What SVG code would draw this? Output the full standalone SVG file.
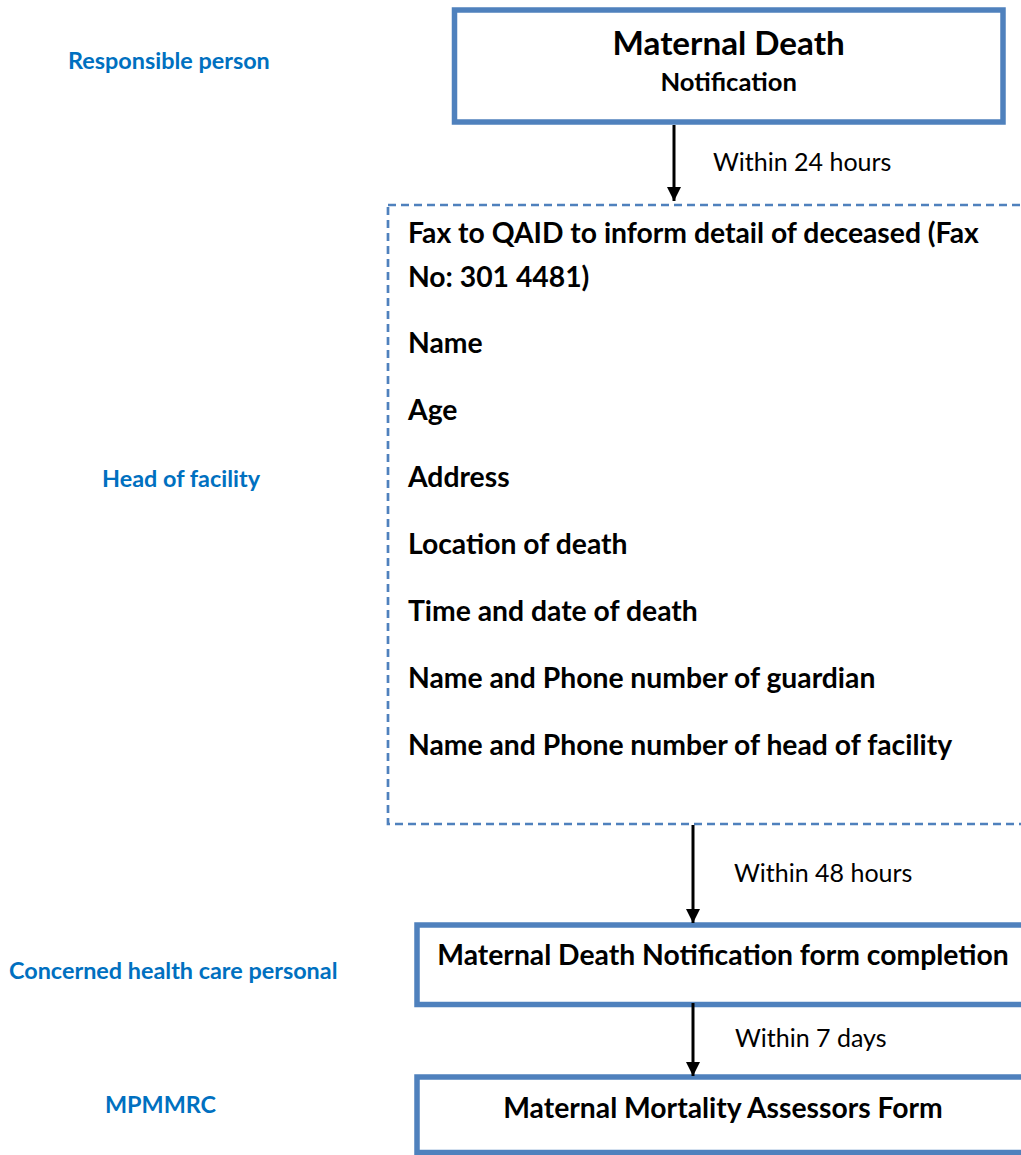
<svg xmlns="http://www.w3.org/2000/svg" width="1021" height="1155" viewBox="0 0 1021 1155">
  <style>
    .box { fill: #ffffff; stroke: #4f81bd; stroke-width: 5.5; }
    .dash { fill: #ffffff; stroke: #4f81bd; stroke-width: 2.7; stroke-dasharray: 8 5; }
    .t { font-family: Lato, "Liberation Sans", sans-serif; font-weight: bold; fill: #000000; }
    .it { font-size: 28.3px; }
    .lbl { font-family: Lato, "Liberation Sans", sans-serif; font-weight: bold; fill: #0070c0; font-size: 23.4px; }
    .edge { font-family: Lato, "Liberation Sans", sans-serif; font-weight: normal; fill: #000000; font-size: 25px; }
    .conn { stroke: #000000; stroke-width: 3; fill: none; }
  </style>
  <defs>
    <marker id="ah" viewBox="0 0 10 10" refX="10" refY="5" markerWidth="4.7" markerHeight="4.7" markerUnits="strokeWidth" orient="auto">
      <path d="M0,0 L10,5 L0,10 Z" fill="#000000"/>
    </marker>
  </defs>
  <rect width="1021" height="1155" fill="#ffffff"/>

  <g id="labels">
    <text class="lbl" x="68" y="69">Responsible person</text>
    <text class="lbl" x="102" y="487">Head of facility</text>
    <text class="lbl" x="9" y="979">Concerned health care personal</text>
    <text class="lbl" x="105" y="1113">MPMMRC</text>
  </g>

  <g id="node-notification">
    <rect class="box" x="454.5" y="10" width="548.5" height="112"/>
    <text class="t" x="728.7" y="55" text-anchor="middle" font-size="33.2">Maternal Death</text>
    <text class="t" x="728.7" y="90.7" text-anchor="middle" font-size="25.6">Notification</text>
  </g>

  <g id="node-fax">
    <rect class="dash" x="388" y="205" width="660" height="619"/>
    <text class="t it" x="408" y="243">Fax to QAID to inform detail of deceased (Fax</text>
    <text class="t it" x="408" y="287">No: 301 4481)</text>
    <text class="t it" x="408" y="353.3">Name</text>
    <text class="t it" x="408" y="420.2">Age</text>
    <text class="t it" x="408" y="487.1">Address</text>
    <text class="t it" x="408" y="554">Location of death</text>
    <text class="t it" x="408" y="620.9">Time and date of death</text>
    <text class="t it" x="408" y="687.8">Name and Phone number of guardian</text>
    <text class="t it" x="408" y="754.7">Name and Phone number of head of facility</text>
  </g>

  <g id="node-form">
    <rect class="box" x="417" y="925" width="612" height="79.5"/>
    <text class="t it" x="723" y="965" text-anchor="middle">Maternal Death Notification form completion</text>
  </g>

  <g id="node-assessors">
    <rect class="box" x="417" y="1077" width="612" height="75.5"/>
    <text class="t it" x="723" y="1118" text-anchor="middle">Maternal Mortality Assessors Form</text>
  </g>

  <g id="connectors">
    <line class="conn" x1="674" y1="125" x2="674" y2="201" marker-end="url(#ah)"/>
    <text class="edge" x="713" y="170.7">Within 24 hours</text>
    <line class="conn" x1="693" y1="825" x2="693" y2="923" marker-end="url(#ah)"/>
    <text class="edge" x="734" y="881.7">Within 48 hours</text>
    <line class="conn" x1="693" y1="1003" x2="693" y2="1076" marker-end="url(#ah)"/>
    <text class="edge" x="735" y="1046.7">Within 7 days</text>
  </g>
</svg>
